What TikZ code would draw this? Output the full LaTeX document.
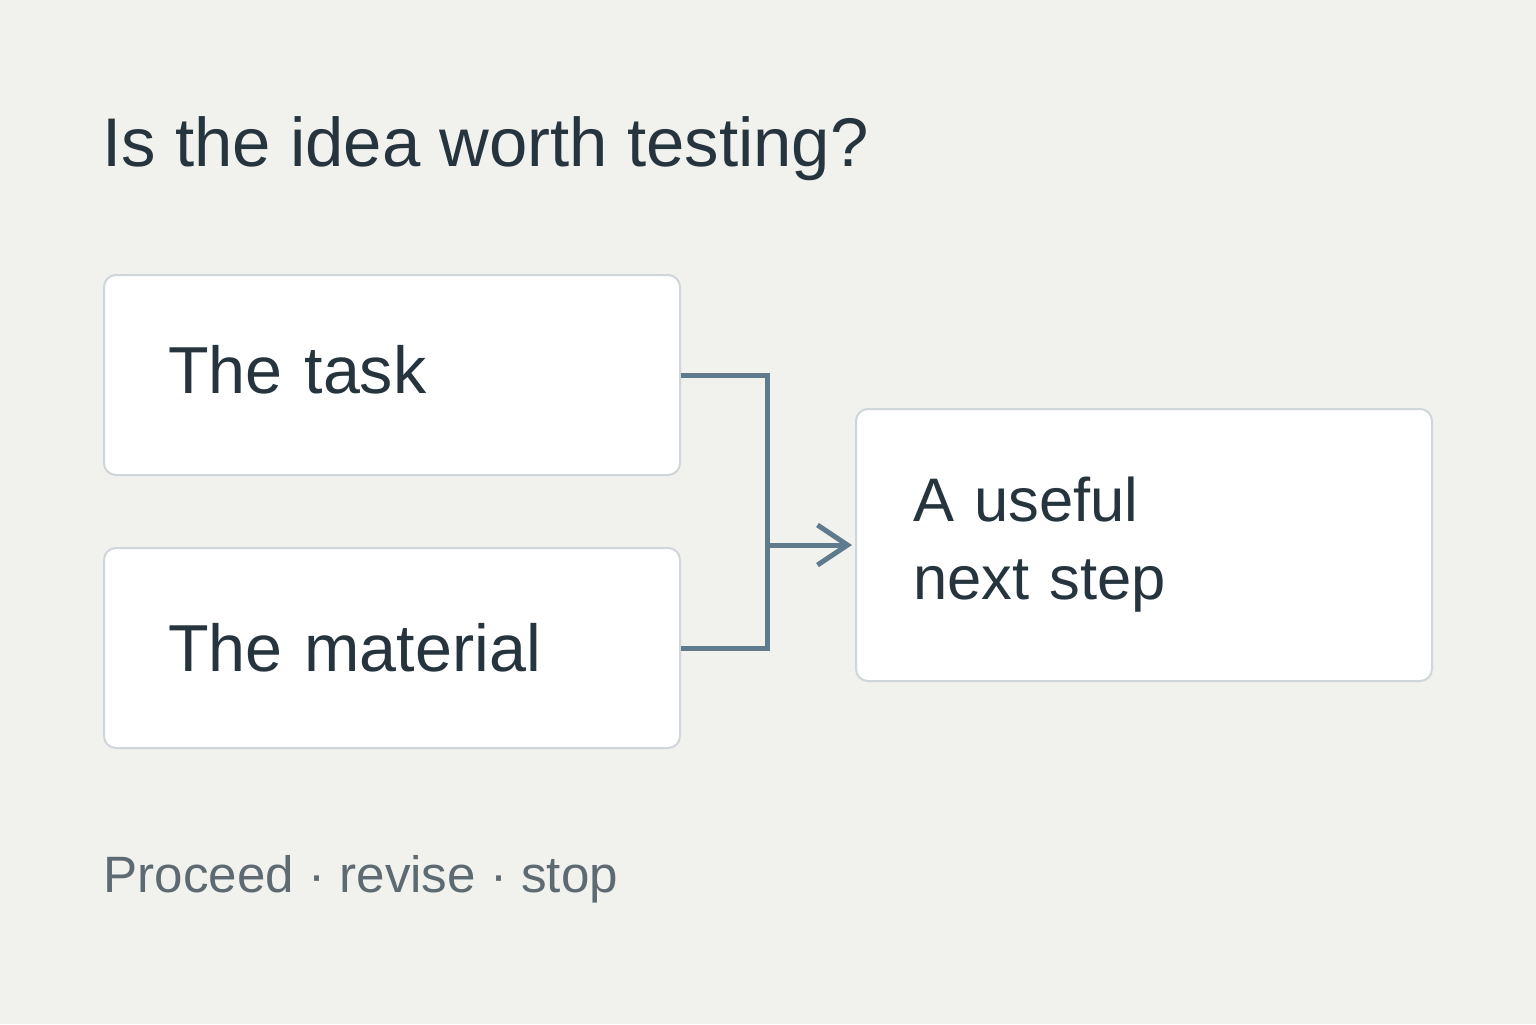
\documentclass[tikz,border=0pt]{standalone}
\usepackage{fontspec}
\setmainfont{Liberation Sans}
\usetikzlibrary{arrows.meta, positioning, calc}

\definecolor{paper}{HTML}{F1F1EE}
\definecolor{ink}{HTML}{25343D}
\definecolor{muted}{HTML}{5E6A72}
\definecolor{boxline}{HTML}{CFD6DA}
\definecolor{wire}{HTML}{5F7A8C}

\begin{document}
\begin{tikzpicture}[
  box/.style={draw=boxline, line width=0.02cm, fill=white, rounded corners=0.12cm,
    minimum width=5.76cm, minimum height=2cm, inner xsep=0.64cm, text width=4.48cm,
    align=left, text=ink, font=\fontsize{18.9pt}{22.2pt}\selectfont},
  link/.style={draw=wire, line width=0.05cm}
]
\useasboundingbox (0,0) rectangle (15.36,-10.24);
\fill[paper] (0,0) rectangle (15.36,-10.24);

\node (title) at (1.02, -1.66) [anchor=base west, inner sep=0, text=ink, font=\fontsize{19.6pt}{22pt}\selectfont] {Is the idea worth testing?};

\node (task) at (3.92, -3.75) [box, text depth=0.12cm] {The task};
\node (material) at (3.92, -6.48) [box] {The material};
\node (step) at (11.44, -5.45) [box, minimum height=2.72cm, inner xsep=0.57cm, text width=4.62cm, font=\fontsize{17.5pt}{22.2pt}\selectfont] {A useful\\next step};

\node (note) at (1.03, -8.92) [anchor=base west, inner sep=0, text=muted, font=\fontsize{14.55pt}{17pt}\selectfont] {Proceed · revise · stop};

\coordinate (join) at ($(step.west)+(-0.88,0)$);
\draw[link] (task.east) -| (join) |- (material.east);
\draw[link, -{Straight Barb[length=0.3cm, width=0.4cm]}, shorten >=0.03cm] (join) -- (step.west);
\end{tikzpicture}
\end{document}
